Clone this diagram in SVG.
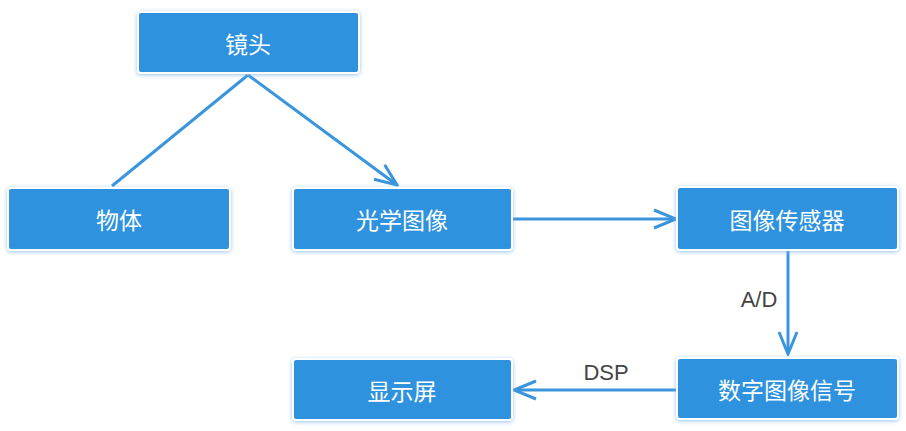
<svg xmlns="http://www.w3.org/2000/svg" width="906" height="431" viewBox="0 0 906 431">
<defs>
<filter id="glow" x="-10%" y="-20%" width="120%" height="140%">
<feDropShadow dx="0" dy="1" stdDeviation="2" flood-color="#7fb8e6" flood-opacity="0.8"/>
</filter>
<marker id="arr" viewBox="0 0 26 22" refX="24" refY="11" markerWidth="26" markerHeight="22" markerUnits="userSpaceOnUse" orient="auto">
<path d="M2,2 L24,11 L2,20" fill="none" stroke="#3a95dc" stroke-width="3"/>
</marker>
<style>
.box{fill:#2f92de;stroke:#ffffff;stroke-width:2;filter:url(#glow)}
.lbl{fill:#ffffff;font-family:"Noto Sans CJK SC","Noto Sans",sans-serif;font-size:23px;text-anchor:middle;dominant-baseline:central}
.edge{fill:none;stroke:#3a95dc;stroke-width:3}
.elbl{fill:#444444;font-family:"Liberation Sans","Noto Sans",sans-serif;font-size:22px;text-anchor:middle;dominant-baseline:central}
</style>
</defs>
<rect width="906" height="431" fill="#ffffff"/>
<g id="connectors">
<path class="edge" d="M248,75 L112,186"/>
<path class="edge" d="M248,75 L397,185" marker-end="url(#arr)"/>
<path class="edge" d="M513,219 L676,219" marker-end="url(#arr)"/>
<path class="edge" d="M788,251 L788,354" marker-end="url(#arr)"/>
<path class="edge" d="M676,390 L514,390" marker-end="url(#arr)"/>
<text class="elbl" x="759" y="299">A/D</text>
<text class="elbl" x="606" y="372">DSP</text>
</g>
<g id="n-lens"><rect class="box" x="138" y="12" width="221" height="61" rx="3"/><text class="lbl" x="248" y="43">镜头</text></g>
<g id="n-object"><rect class="box" x="8" y="188" width="222" height="62" rx="3"/><text class="lbl" x="119" y="219">物体</text></g>
<g id="n-optical"><rect class="box" x="293" y="188" width="219" height="62" rx="3"/><text class="lbl" x="402" y="219">光学图像</text></g>
<g id="n-sensor"><rect class="box" x="677" y="187" width="221" height="63" rx="3"/><text class="lbl" x="787" y="219">图像传感器</text></g>
<g id="n-digital"><rect class="box" x="677" y="358" width="221" height="61" rx="3"/><text class="lbl" x="787" y="389">数字图像信号</text></g>
<g id="n-display"><rect class="box" x="293" y="359" width="219" height="61" rx="3"/><text class="lbl" x="402" y="390">显示屏</text></g>
</svg>
